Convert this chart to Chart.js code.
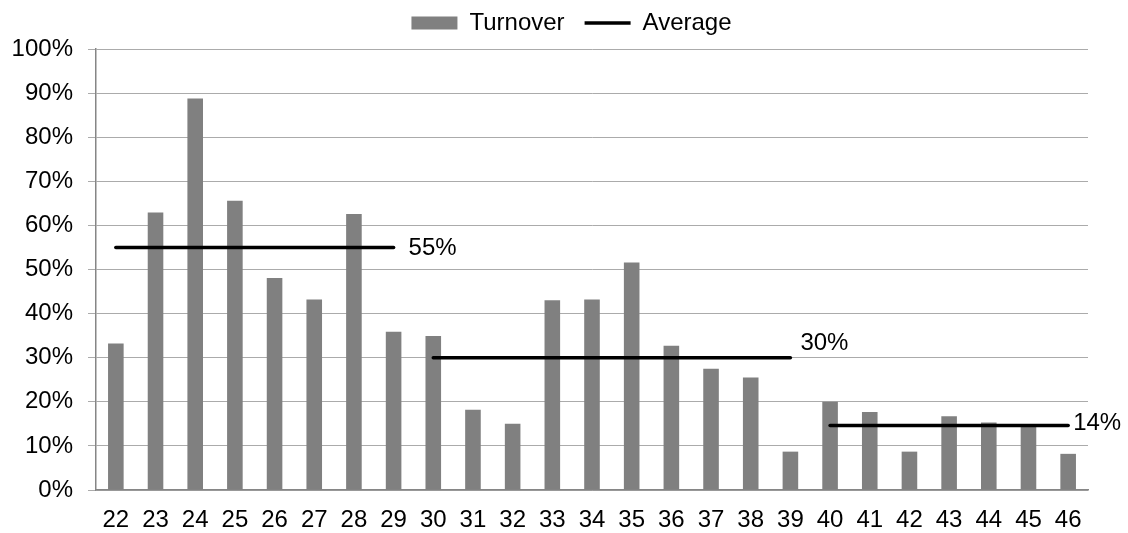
<!DOCTYPE html>
<html lang="en">
<head>
    <meta charset="UTF-8">
    <title>Turnover</title>
    <script src="https://cdn.jsdelivr.net/npm/chart.js"></script>
    <style>
        body {
            margin: 0;
            background: #ffffff;
            font-family: "Liberation Sans", Arial, sans-serif;
        }
        .chart-container {
            width: 1128px;
            height: 533px;
        }
    </style>
</head>
<body>
    <div class="chart-container">
        <canvas id="turnoverChart"></canvas>
    </div>

    <script>
        // categories and values
        const weeks = ['22', '23', '24', '25', '26', '27', '28', '29', '30', '31', '32', '33', '34',
                       '35', '36', '37', '38', '39', '40', '41', '42', '43', '44', '45', '46'];
        const turnover = [33.2, 62.9, 88.8, 65.6, 48.1, 43.2, 62.6, 35.9, 34.9, 18.2, 15.0, 43.0, 43.2,
                          51.6, 32.7, 27.5, 25.5, 8.7, 20.0, 17.7, 8.7, 16.7, 15.3, 14.7, 8.2];

        // average periods
        const avgFrom = ['22', '30', '40'];
        const avgTo = ['29', '39', '46'];
        const avgValue = [55, 30, 14.6];
        const avgLabels = ['55%', '30%', '14%'];

        const yTicks = [0, 10, 20, 30, 40, 50, 60, 70, 80, 90, 100];

        const FONT = '"Liberation Sans", Arial, sans-serif';

        // average value for every week, taken from its period
        const avgByWeek = weeks.map(function(w, i) {
            for (let p = 0; p < avgFrom.length; p++) {
                if (i >= weeks.indexOf(avgFrom[p]) && i <= weeks.indexOf(avgTo[p])) return avgValue[p];
            }
            return null;
        });

        // text next to each average line
        const labelOffsets = [[15, 1], [10, -14], [5, -2]];
        const avgLabelPlugin = {
            id: 'avgLabels',
            beforeInit: function(chart) {
                // a bit more room under the legend
                const origFit = chart.legend.fit;
                chart.legend.fit = function() {
                    origFit.bind(chart.legend)();
                    this.height += 4;
                };
            },
            afterLayout: function(chart) {
                // centre the legend a little right of the canvas middle
                chart.legend.left += 55;
            },
            afterDatasetsDraw: function(chart) {
                const ctx = chart.ctx;
                const xs = chart.scales.x;
                const ys = chart.scales.y;
                ctx.save();
                ctx.font = '24px ' + FONT;
                ctx.fillStyle = '#000000';
                ctx.textAlign = 'left';
                ctx.textBaseline = 'middle';
                avgLabels.forEach(function(t, i) {
                    const px = xs.getPixelForValue(weeks.indexOf(avgTo[i])) + labelOffsets[i][0];
                    const py = ys.getPixelForValue(avgValue[i]) + labelOffsets[i][1];
                    ctx.fillText(t, px, py);
                });
                ctx.restore();
            }
        };

        const ctx = document.getElementById('turnoverChart').getContext('2d');
        new Chart(ctx, {
            type: 'bar',
            data: {
                labels: weeks,
                datasets: [{
                    label: 'Turnover',
                    data: turnover,
                    backgroundColor: '#808080',
                    borderWidth: 0,
                    grouped: false,
                    categoryPercentage: 1,
                    barPercentage: 0.393,
                    order: 2
                }, {
                    type: 'line',
                    label: 'Average',
                    data: avgByWeek,
                    borderColor: '#000000',
                    backgroundColor: '#000000',
                    borderWidth: 3.5,
                    borderCapStyle: 'round',
                    pointRadius: 0,
                    fill: false,
                    segment: {
                        borderColor: function(c) {
                            return c.p0.parsed.y === c.p1.parsed.y ? '#000000' : 'rgba(0,0,0,0)';
                        }
                    },
                    order: 1
                }]
            },
            options: {
                responsive: true,
                maintainAspectRatio: false,
                animation: false,
                layout: {
                    padding: { left: 0, right: 40, top: -9, bottom: 0 }
                },
                plugins: {
                    tooltip: { enabled: false },
                    legend: {
                        position: 'top',
                        labels: {
                            color: '#000000',
                            font: { family: FONT, size: 24 },
                            usePointStyle: true,
                            pointStyleWidth: 46,
                            boxHeight: 13,
                            padding: 20,
                            generateLabels: function(chart) {
                                return [{
                                    text: 'Turnover', datasetIndex: 0,
                                    fillStyle: '#808080', strokeStyle: '#808080',
                                    lineWidth: 0, pointStyle: 'rect'
                                }, {
                                    text: 'Average', datasetIndex: 1,
                                    fillStyle: '#000000', strokeStyle: '#000000',
                                    lineWidth: 3.5, pointStyle: 'line'
                                }];
                            }
                        }
                    }
                },
                scales: {
                    x: {
                        afterFit: function(axis) { axis.height = 43; },
                        grid: { display: false },
                        border: { display: true, color: '#868686', width: 1.5 },
                        ticks: {
                            color: '#000000',
                            font: { family: FONT, size: 24 },
                            padding: 8,
                            maxRotation: 0,
                            autoSkip: false
                        }
                    },
                    y: {
                        min: 0,
                        max: 100,
                        afterBuildTicks: function(axis) {
                            axis.ticks = yTicks.map(function(v) { return { value: v }; });
                        },
                        afterFit: function(axis) { axis.width = 96; },
                        grid: { color: '#ababab', lineWidth: 1, tickLength: 8 },
                        border: { display: true, color: '#868686', width: 1.5 },
                        ticks: {
                            color: '#000000',
                            font: { family: FONT, size: 24 },
                            padding: 15,
                            callback: function(v) { return v + '%'; }
                        }
                    }
                }
            },
            plugins: [avgLabelPlugin]
        });
    </script>
</body>
</html>
